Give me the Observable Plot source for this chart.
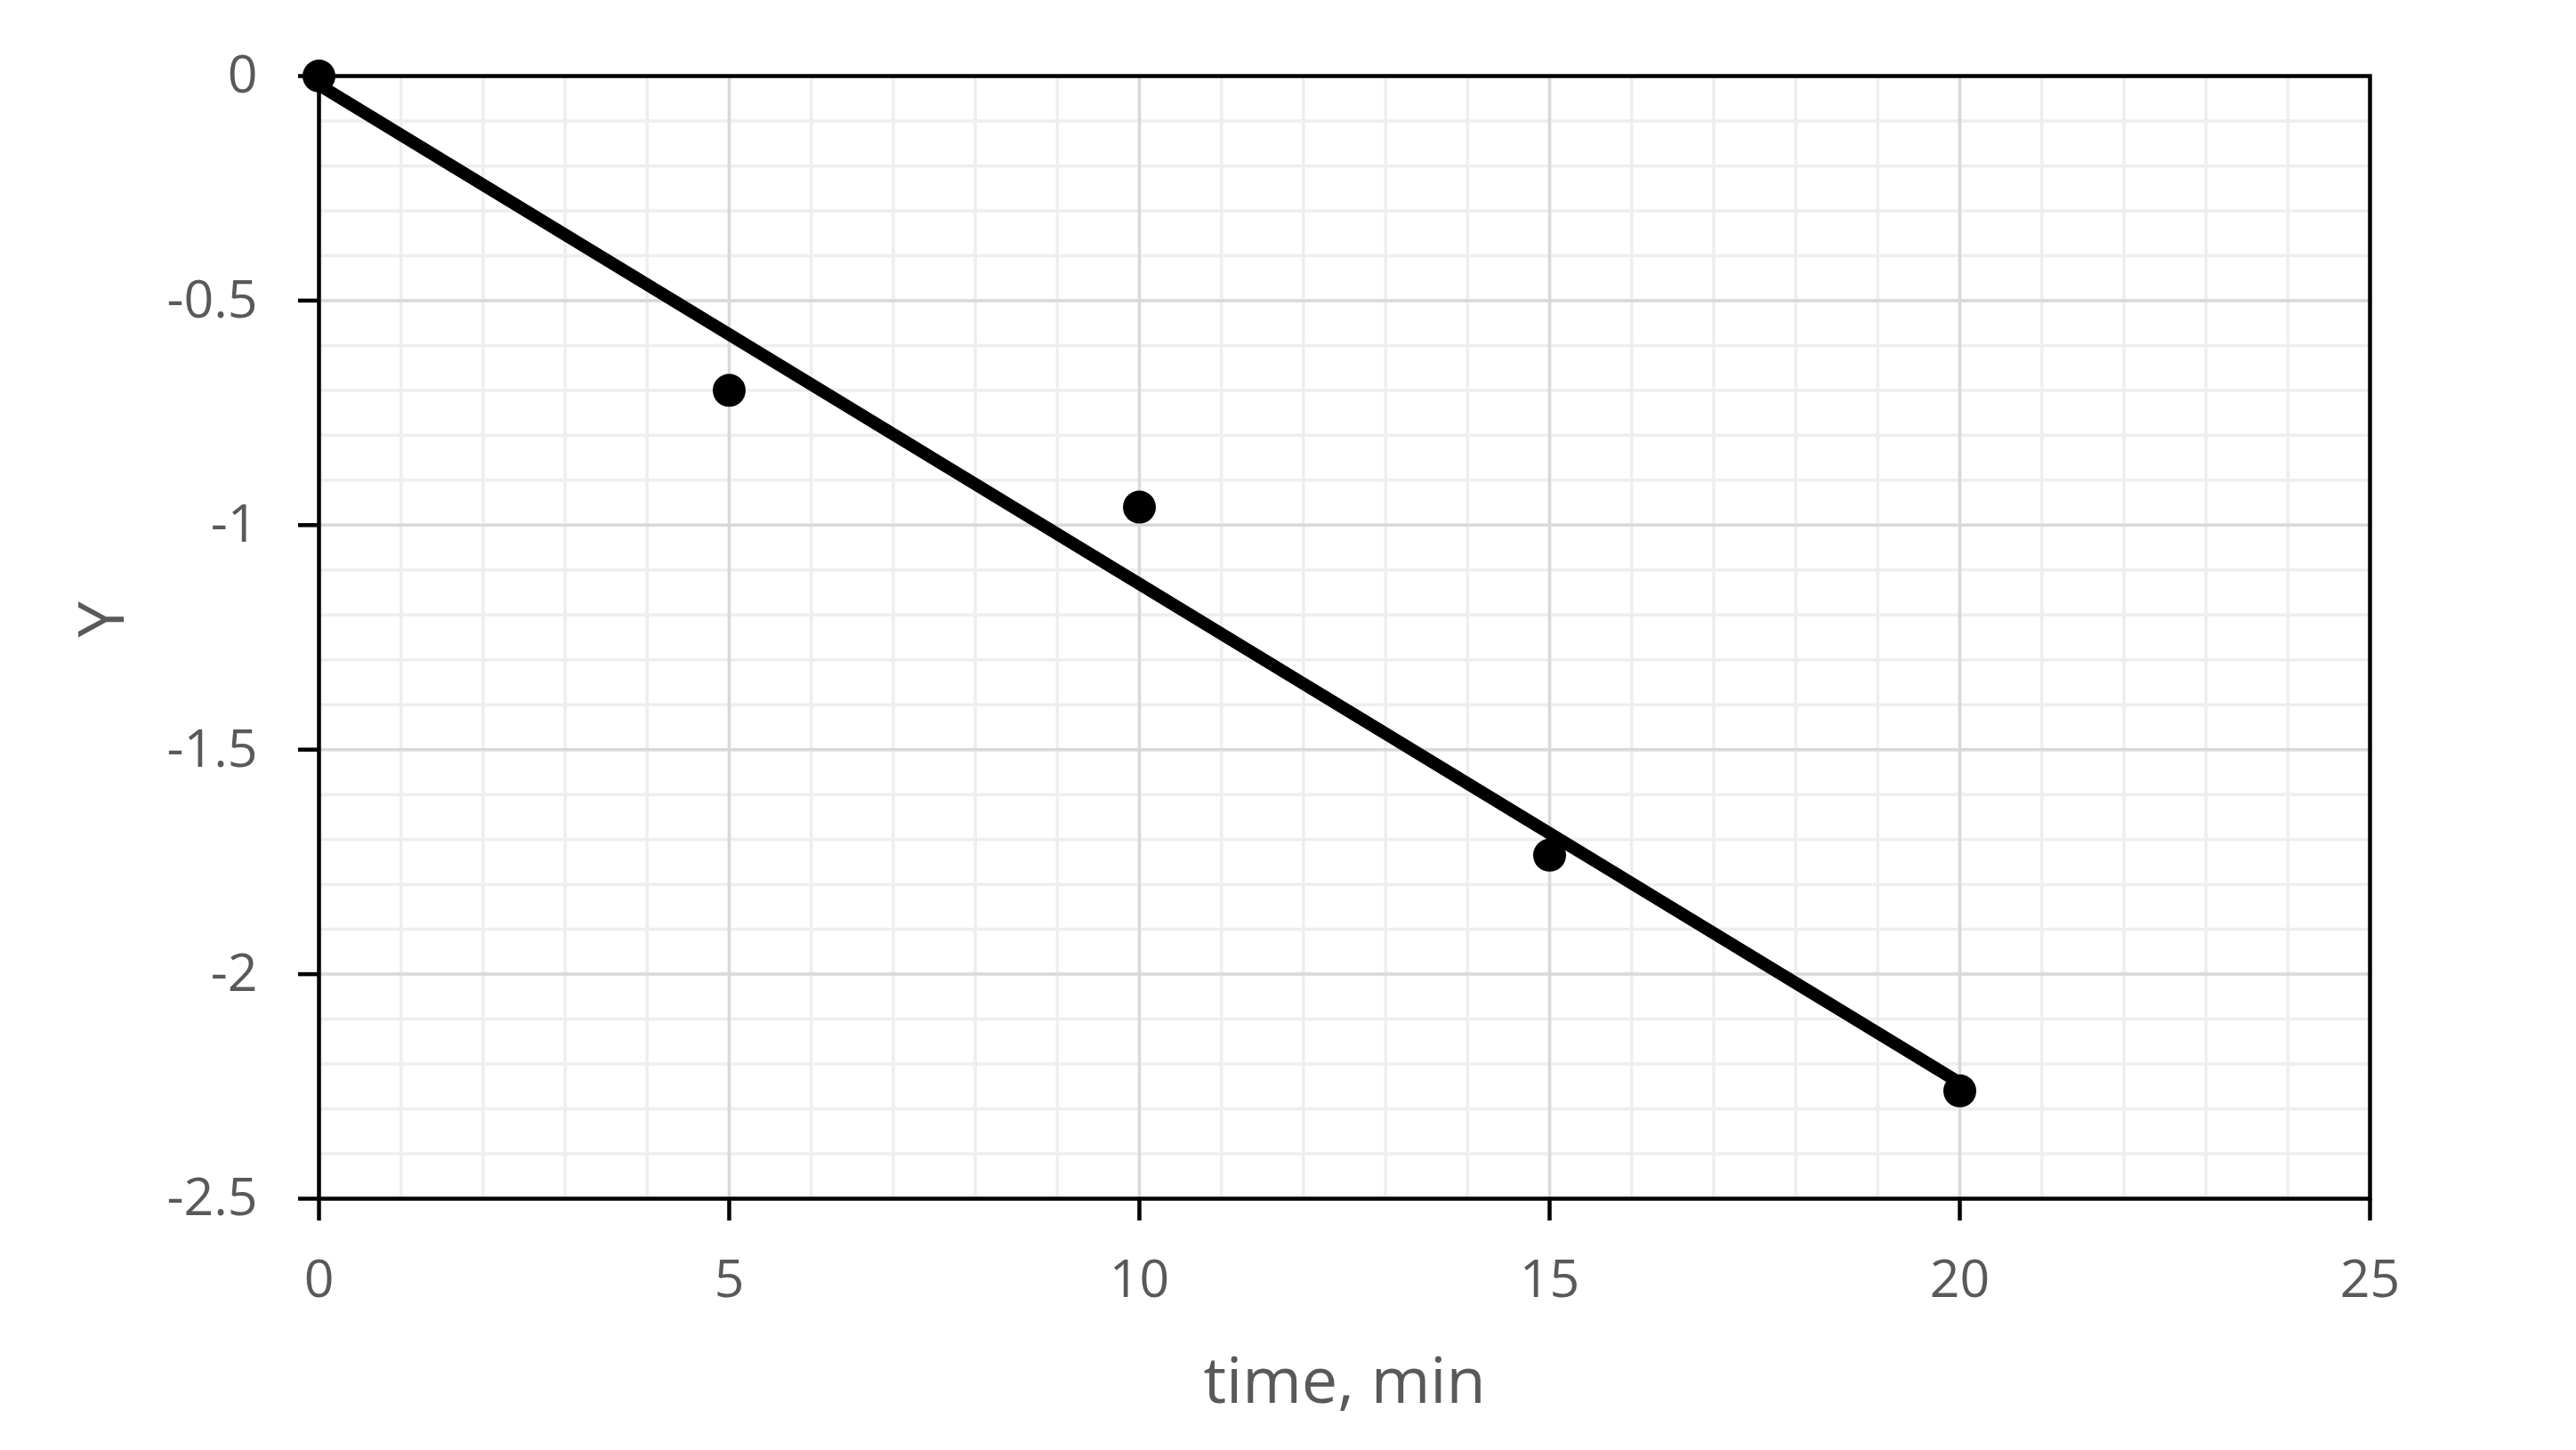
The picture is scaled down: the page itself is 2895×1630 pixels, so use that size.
<!DOCTYPE html>
<html>
<head>
<meta charset="utf-8">
<script src="https://cdn.jsdelivr.net/npm/d3@7"></script>
<script src="https://cdn.jsdelivr.net/npm/@observablehq/plot@0.6"></script>
<style>
  html, body { margin: 0; padding: 0; background: #ffffff; }
  #chart { width: 2895px; height: 1630px; }
</style>
</head>
<body>
<div id="chart"></div>
<script>
// Data
const timeMin = [0, 5, 10, 15, 20];
const yValues = [0, -0.70, -0.96, -1.735, -2.26];

// Axis ticks
const xTicks = [0, 5, 10, 15, 20, 25];
const yTicks = [0, -0.5, -1, -1.5, -2, -2.5];
const xMinorStep = 1;
const yMinorStep = 0.1;

const xLabel = "time, min";
const yLabel = "Y";

const points = timeMin.map((t, i) => ({t, y: yValues[i]}));
const xMinor = d3.range(0, 25 + 1e-9, xMinorStep);
const yMinor = d3.range(0, 26).map(i => -i * yMinorStep);

const textColor = "#595959";

const chart = Plot.plot({
  width: 2895,
  height: 1630,
  marginLeft: 358,
  marginRight: 232,
  marginTop: 85,
  marginBottom: 283,
  style: {fontFamily: "'Open Sans', sans-serif", background: "#ffffff", overflow: "visible"},
  x: {domain: [0, 25]},
  y: {domain: [-2.5, 0]},
  marks: [
    Plot.ruleX(xMinor, {stroke: "#eeeeee", strokeWidth: 3.5}),
    Plot.ruleY(yMinor, {stroke: "#eeeeee", strokeWidth: 3.5}),
    Plot.ruleX(xTicks, {stroke: "#d9d9d9", strokeWidth: 3.5}),
    Plot.ruleY(yTicks, {stroke: "#d9d9d9", strokeWidth: 3.5}),
    Plot.frame({stroke: "black", strokeWidth: 4.5}),
    Plot.axisX({ticks: xTicks, tickSize: 25, tickPadding: 44, tickFormat: d => String(d),
      fontSize: 59, fill: textColor, stroke: "black", strokeWidth: 4.5, label: null}),
    Plot.axisY({ticks: yTicks, tickSize: 23, tickPadding: 46, tickFormat: d => String(d),
      fontSize: 59, fill: textColor, stroke: "black", strokeWidth: 4.5, label: null}),
    Plot.linearRegressionY(points, {x: "t", y: "y", ci: 0, stroke: "black", strokeWidth: 14}),
    Plot.dot(points, {x: "t", y: "y", r: 18.5, fill: "black", stroke: "none"}),
    Plot.text([xLabel], {frameAnchor: "bottom", lineAnchor: "top", dy: 178, fontSize: 72, fill: textColor}),
    Plot.text([yLabel], {frameAnchor: "left", rotate: -90, dx: -243, lineAnchor: "middle", fontSize: 72, fill: textColor})
  ]
});

document.getElementById("chart").appendChild(chart);
</script>
</body>
</html>
